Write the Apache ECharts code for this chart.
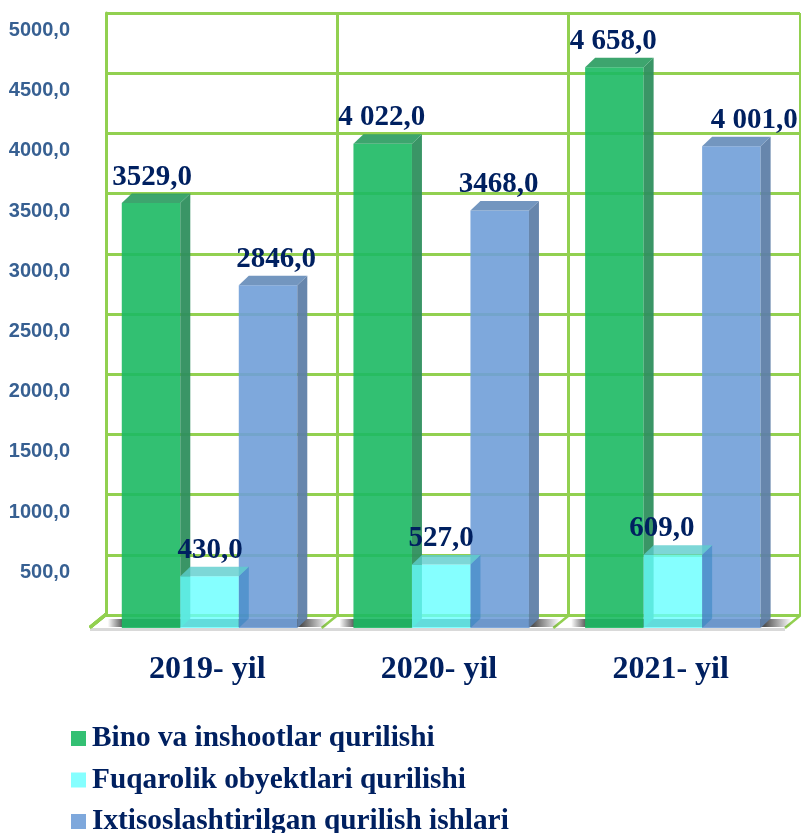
<!DOCTYPE html>
<html>
<head>
<meta charset="utf-8">
<style>
  html, body { margin: 0; padding: 0; background: #fff; }
  #main { width: 801px; height: 833px; }
</style>
<script src="https://cdn.jsdelivr.net/npm/echarts@6/dist/echarts.min.js"></script>
</head>
<body>
<div id="main"></div>
<script>
var categories = ['2019- yil', '2020- yil', '2021- yil'];
var seriesNames = ['Bino va inshootlar qurilishi', 'Fuqarolik obyektlari qurilishi', 'Ixtisoslashtirilgan qurilish ishlari'];
var binoValues = [3529, 4022, 4658];
var fuqarolikValues = [430, 527, 609];
var ixtisosValues = [2846, 3468, 4001];
var binoLabels = ['3529,0', '4 022,0', '4 658,0'];
var fuqarolikLabels = ['430,0', '527,0', '609,0'];
var ixtisosLabels = ['2846,0', '3468,0', '4 001,0'];
var gridTicks = [0, 500, 1000, 1500, 2000, 2500, 3000, 3500, 4000, 4500, 5000];

var navy = '#002060';
var lineGreen = '#92D050';

// 3D look: side and top faces are the front rectangle pushed back by this much
var depthX = 10, depthY = -9.5;
var wallX = 16, wallY = -13;
var barWidth = 58.5;

// one 3D bar per category, place = position inside the group (0, 1, 2)
function renderBar(place, look, labels, nudges) {
  return function(params, api) {
    var cat = api.value(0);
    var base = api.coord([cat, 0]);
    var top = api.coord([cat, api.value(1)]);
    var x = base[0] + 3.7 + (place - 1.5) * barWidth;
    var w = barWidth;
    return {
      type: 'group',
      children: [
        {
          type: 'rect',
          shape: { x: x, y: top[1], width: w, height: base[1] - top[1] },
          style: { fill: look.front, opacity: look.opacity }
        },
        {
          type: 'polygon',
          shape: { points: [[x + w, top[1]], [x + w + depthX, top[1] + depthY], [x + w + depthX, base[1] + depthY], [x + w, base[1]]] },
          style: { fill: look.side, opacity: look.sideOpacity }
        },
        {
          type: 'polygon',
          shape: { points: [[x, top[1]], [x + depthX, top[1] + depthY], [x + w + depthX, top[1] + depthY], [x + w, top[1]]] },
          style: { fill: look.top, opacity: look.topOpacity }
        },
        {
          type: 'text',
          z2: 50,
          style: {
            text: labels[cat],
            x: x + w / 2 + nudges[cat],
            y: top[1] + depthY - 2,
            align: 'center',
            verticalAlign: 'bottom',
            fill: navy,
            font: 'bold 29px "Liberation Serif"'
          }
        }
      ]
    };
  };
}

// dark shadow lying on the floor below each group, fading out at both ends
function renderShadow(params, api) {
  var base = api.coord([api.value(0), 0]);
  return {
    type: 'rect',
    shape: { x: base[0] - 98, y: base[1] - 9, width: 220, height: 8 },
    style: {
      opacity: 0.85,
      fill: new echarts.graphic.LinearGradient(0, 0, 1, 0, [
        { offset: 0, color: 'rgba(51,51,51,0)' },
        { offset: 0.07, color: '#333' },
        { offset: 0.88, color: '#333' },
        { offset: 1, color: 'rgba(51,51,51,0)' }
      ])
    }
  };
}

var chartDom = document.getElementById('main');
var myChart = echarts.init(chartDom);
var option;

option = {
  animation: false,
  backgroundColor: '#fff',
  legend: {
    orient: 'vertical',
    left: 66,
    top: 719,
    height: 140,
    icon: 'rect',
    itemWidth: 15,
    itemHeight: 15,
    itemGap: 12.5,
    data: seriesNames,
    textStyle: {
      color: navy,
      fontFamily: 'Liberation Serif',
      fontWeight: 'bold',
      fontSize: 29.3,
      padding: [0, 0, 0, 1]
    }
  },
  grid: [
    // front plane, carries the bars and the labels
    { left: 90, top: 26, width: 695, height: 602 },
    // back wall
    { left: 90 + wallX, top: 26 + wallY, width: 694, height: 602 }
  ],
  xAxis: [
    {
      type: 'category',
      gridIndex: 0,
      data: categories,
      axisLine: { show: false },
      axisTick: { show: false },
      splitLine: { show: false },
      axisLabel: {
        margin: 26,
        padding: [0, 0, 0, 3],
        color: navy,
        fontFamily: 'Liberation Serif',
        fontWeight: 'bold',
        fontSize: 32
      }
    },
    {
      type: 'category',
      gridIndex: 1,
      data: categories,
      axisLine: { show: false },
      axisTick: { show: false },
      axisLabel: { show: false },
      splitLine: { show: true, showMinLine: true, showMaxLine: true, interval: 0, lineStyle: { color: lineGreen, width: 3 } }
    }
  ],
  yAxis: [
    {
      type: 'value',
      gridIndex: 0,
      min: 0,
      max: 5000,
      interval: 500,
      axisLine: { show: false },
      axisTick: { show: false },
      splitLine: { show: false },
      axisLabel: {
        margin: 20,
        verticalAlign: 'top',
        lineHeight: 9,
        color: '#376092',
        fontFamily: 'Liberation Sans',
        fontWeight: 'bold',
        fontSize: 20,
        formatter: function(v) {
          return v === 0 ? '' : v.toFixed(1).replace('.', ',');
        }
      }
    },
    {
      type: 'value',
      gridIndex: 1,
      min: 0,
      max: 5000,
      interval: 500,
      axisLine: { show: true, lineStyle: { color: lineGreen, width: 3 } },
      axisTick: { show: false },
      axisLabel: { show: false },
      splitLine: { show: true, lineStyle: { color: lineGreen, width: 3 } }
    }
  ],
  series: [
    {
      // diagonal ticks on the left side and across the floor, floor edge
      type: 'custom',
      xAxisIndex: 0,
      yAxisIndex: 0,
      silent: true,
      z: 3,
      data: gridTicks,
      renderItem: function(params, api) {
        var p = api.coord([0, api.value(0)]);
        var children = [{
          type: 'line',
          shape: { x1: 90, y1: p[1], x2: 90 + wallX, y2: p[1] + wallY },
          style: { stroke: lineGreen, lineWidth: 2.5 }
        }];
        if (api.value(0) === 0) {
          children.push({
            type: 'rect',
            shape: { x: 90, y: p[1], width: 695, height: 3 },
            style: { fill: '#d9d9d9' }
          });
          [1, 2, 3].forEach(function(i) {
            var fx = 90 + i * 695 / 3;
            children.push({
              type: 'line',
              shape: { x1: fx, y1: p[1], x2: fx + wallX, y2: p[1] + wallY },
              style: { stroke: lineGreen, lineWidth: 2.5 }
            });
          });
        }
        return { type: 'group', children: children };
      }
    },
    {
      type: 'custom',
      xAxisIndex: 0,
      yAxisIndex: 0,
      silent: true,
      z: 4,
      data: [0, 1, 2],
      renderItem: renderShadow
    },
    {
      name: seriesNames[0],
      type: 'custom',
      xAxisIndex: 0,
      yAxisIndex: 0,
      z: 5,
      itemStyle: { color: '#33C073' },
      data: binoValues.map(function(v, i) { return [i, v]; }),
      renderItem: renderBar(0, { front: '#1CB963', side: '#2F8F5E', top: '#33A066', opacity: 0.9, sideOpacity: 0.95, topOpacity: 0.95 }, binoLabels, [1, -1, -1])
    },
    {
      name: seriesNames[2],
      type: 'custom',
      xAxisIndex: 0,
      yAxisIndex: 0,
      z: 6,
      itemStyle: { color: '#7EA8DC' },
      data: ixtisosValues.map(function(v, i) { return [i, v]; }),
      renderItem: renderBar(2, { front: '#709ED8', side: '#5F7FA8', top: '#6C90BC', opacity: 0.9, sideOpacity: 0.95, topOpacity: 0.95 }, ixtisosLabels, [8, -1, 23])
    },
    {
      name: seriesNames[1],
      type: 'custom',
      xAxisIndex: 0,
      yAxisIndex: 0,
      z: 7,
      itemStyle: { color: '#85FFFF' },
      data: fuqarolikValues.map(function(v, i) { return [i, v]; }),
      renderItem: renderBar(1, { front: '#66FFFF', side: '#2A80C0', top: '#5CCDCD', opacity: 0.8, sideOpacity: 0.5, topOpacity: 0.8 }, fuqarolikLabels, [0.5, 0, -11])
    }
  ]
};

option && myChart.setOption(option);
</script>
</body>
</html>
